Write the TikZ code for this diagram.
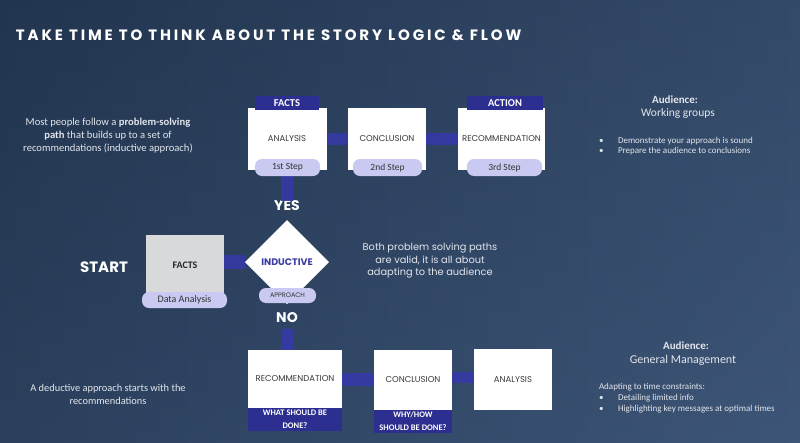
\documentclass[tikz,border=0pt]{standalone}
\usepackage{fontspec}
\setmainfont{Carlito}
\newfontfamily\pop{Poppins}
\newfontfamily\titlef[LetterSpace=19]{Poppins}
\usetikzlibrary{shapes.geometric}
\definecolor{bgdark}{HTML}{22354F}
\definecolor{bglight}{HTML}{3D5577}
\definecolor{labblue}{HTML}{2C2F8F}
\definecolor{barblue}{HTML}{3539A6}
\definecolor{pillc}{HTML}{C9C9F2}
\definecolor{boxtxt}{HTML}{3A3A3A}
\definecolor{factsc}{HTML}{D8D9DA}
\definecolor{txtc}{HTML}{E2E6EC}
\definecolor{indc}{HTML}{3A3DA3}
\begin{document}
\begin{tikzpicture}[x=1pt,y=-1pt,
  every node/.style={inner sep=0pt, outer sep=0pt},
  wbox/.style={rectangle, fill=white, text=boxtxt, font=\pop\fontsize{8.5}{10}\selectfont},
  lab/.style={rectangle, fill=labblue, text=white, font=\bfseries\fontsize{10.5}{11}\selectfont},
  lab2/.style={rectangle, fill=labblue, text=white, align=center, font=\bfseries\fontsize{8.5}{13}\selectfont},
  pill/.style={rectangle, rounded corners=7pt, fill=pillc, text=black!80, font=\fontsize{9.5}{10}\selectfont},
  bar/.style={line width=12pt, draw=barblue, opacity=0.9},
  body/.style={text=txtc, align=center},
  big/.style={text=white, font=\pop\bfseries\fontsize{14}{15}\selectfont}]
\useasboundingbox (0,0) rectangle (800,442);
\shade[left color=bgdark, right color=bglight] (0,0) rectangle (800,442);
\shade[top color=bgdark, bottom color=bglight, opacity=0.35] (0,0) rectangle (800,442);

% title
\node[anchor=west, text=white, font=\titlef\bfseries\fontsize{15}{16}\selectfont] (title) at (16,35) {TAKE TIME TO THINK ABOUT THE STORY LOGIC \& FLOW};

% top row
\node[wbox, minimum width=79pt, minimum height=62pt] (ana) at (287,139) {ANALYSIS};
\node[wbox, minimum width=78pt, minimum height=62pt] (con) at (387,139) {CONCLUSION};
\node[wbox, minimum width=87pt, minimum height=62pt] (rec) at (501.5,139) {RECOMMENDATION};
\node[big] (yes) at (287,206) {YES};
\draw[bar] (ana.east) -- (con.west);
\draw[bar] (con.east) -- (rec.west);
\draw[bar] (ana.south) -- (ana.south |- yes.north);
\node[lab, minimum width=64pt, minimum height=14pt] (lf) at (287,103) {FACTS};
\node[lab, minimum width=76pt, minimum height=14pt] (la) at (505,103) {ACTION};
\node[pill, minimum width=65pt, minimum height=17pt] (p1) at (287.5,167.5) {1st Step};
\node[pill, minimum width=69pt, minimum height=17pt] (p2) at (387.5,167.5) {2nd Step};
\node[pill, minimum width=75pt, minimum height=17pt] (p3) at (504.5,167.5) {3rd Step};

% middle
\node[big, font=\pop\bfseries\fontsize{15}{16}\selectfont] (start) at (104,267) {START};
\node[rectangle, fill=factsc, minimum width=78pt, minimum height=60pt, text=black!85, font=\bfseries\fontsize{10}{10}\selectfont] (facts) at (185,265) {FACTS};
\node[diamond, fill=white, minimum width=84pt, minimum height=84pt, aspect=1, text=indc, font=\pop\bfseries\fontsize{9.5}{10}\selectfont] (ind) at (287,262) {INDUCTIVE};
\draw[bar, line width=14pt] (facts.east |- ind.west) -- (ind.west);
\node[pill, minimum width=85pt, minimum height=16pt, font=\fontsize{10}{10}\selectfont] (da) at (184.5,300) {Data Analysis};
\node[pill, minimum width=57pt, minimum height=15pt, font=\pop\fontsize{6.5}{7}\selectfont] (app) at (287.5,295.5) {APPROACH};
\node[big] (no) at (287,318) {NO};

% bottom row
\node[wbox, minimum width=94pt, minimum height=58pt] (rec2) at (295,379) {RECOMMENDATION};
\node[wbox, minimum width=78pt, minimum height=60pt] (con2) at (413,380) {CONCLUSION};
\node[wbox, minimum width=78pt, minimum height=61pt] (ana2) at (513,379.5) {ANALYSIS};
\draw[bar, line width=13pt] (rec2.east) -- (rec2.east -| con2.west);
\draw[bar, line width=11pt] (con2.east |- 0,377.5) -- (ana2.west |- 0,377.5);
\draw[bar, line width=13pt] (no.south) ++(0,6) -- (no.south |- rec2.north);
\node[lab2, minimum width=94pt, minimum height=23pt] (w1) at (295,419.5) {WHAT SHOULD BE\\DONE?};
\node[lab2, minimum width=78pt, minimum height=23pt] (w2) at (413,421.5) {WHY/HOW\\SHOULD BE DONE?};

% texts
\node[body, font=\fontsize{10.6}{13}\selectfont] (t1) at (108,136) {Most people follow a \textbf{problem-solving}\\\textbf{path} that builds up to a set of\\recommendations (inductive approach)};
\node[body, font=\pop\fontsize{9.8}{12.5}\selectfont] (t2) at (430,261) {Both problem solving paths\\are valid, it is all about\\adapting to the audience};
\node[body, font=\fontsize{10.4}{13}\selectfont] (t3) at (108,394.5) {A deductive approach starts with the\\recommendations};

\node[body, font=\bfseries\fontsize{11}{12}\selectfont] (au1) at (675,100) {Audience:};
\node[body, font=\fontsize{11.5}{12}\selectfont] (wg) at (678,113) {Working groups};
\node[body, anchor=west, font=\fontsize{9}{10}\selectfont] (bu1) at (599,141) {\textbullet};
\node[body, anchor=west, font=\fontsize{9}{10}\selectfont] (bt1) at (618,141) {Demonstrate your approach is sound};
\node[body, anchor=west, font=\fontsize{9}{10}\selectfont] (bu2) at (599,151.5) {\textbullet};
\node[body, anchor=west, font=\fontsize{9}{10}\selectfont] (bt2) at (618,151.5) {Prepare the audience to conclusions};

\node[body, font=\bfseries\fontsize{11}{12}\selectfont] (au2) at (686,346) {Audience:};
\node[body, font=\fontsize{12}{12}\selectfont] (gm) at (683,360) {General Management};
\node[body, anchor=west, font=\fontsize{9}{10}\selectfont] (ad) at (599,387) {Adapting to time constraints:};
\node[body, anchor=west, font=\fontsize{9}{10}\selectfont] (bu3) at (599,398) {\textbullet};
\node[body, anchor=west, font=\fontsize{9}{10}\selectfont] (bt3) at (618,398) {Detailing limited info};
\node[body, anchor=west, font=\fontsize{9}{10}\selectfont] (bu4) at (599,409) {\textbullet};
\node[body, anchor=west, font=\fontsize{9}{10}\selectfont] (bt4) at (618,409) {Highlighting key messages at optimal times};
\end{tikzpicture}
\end{document}
